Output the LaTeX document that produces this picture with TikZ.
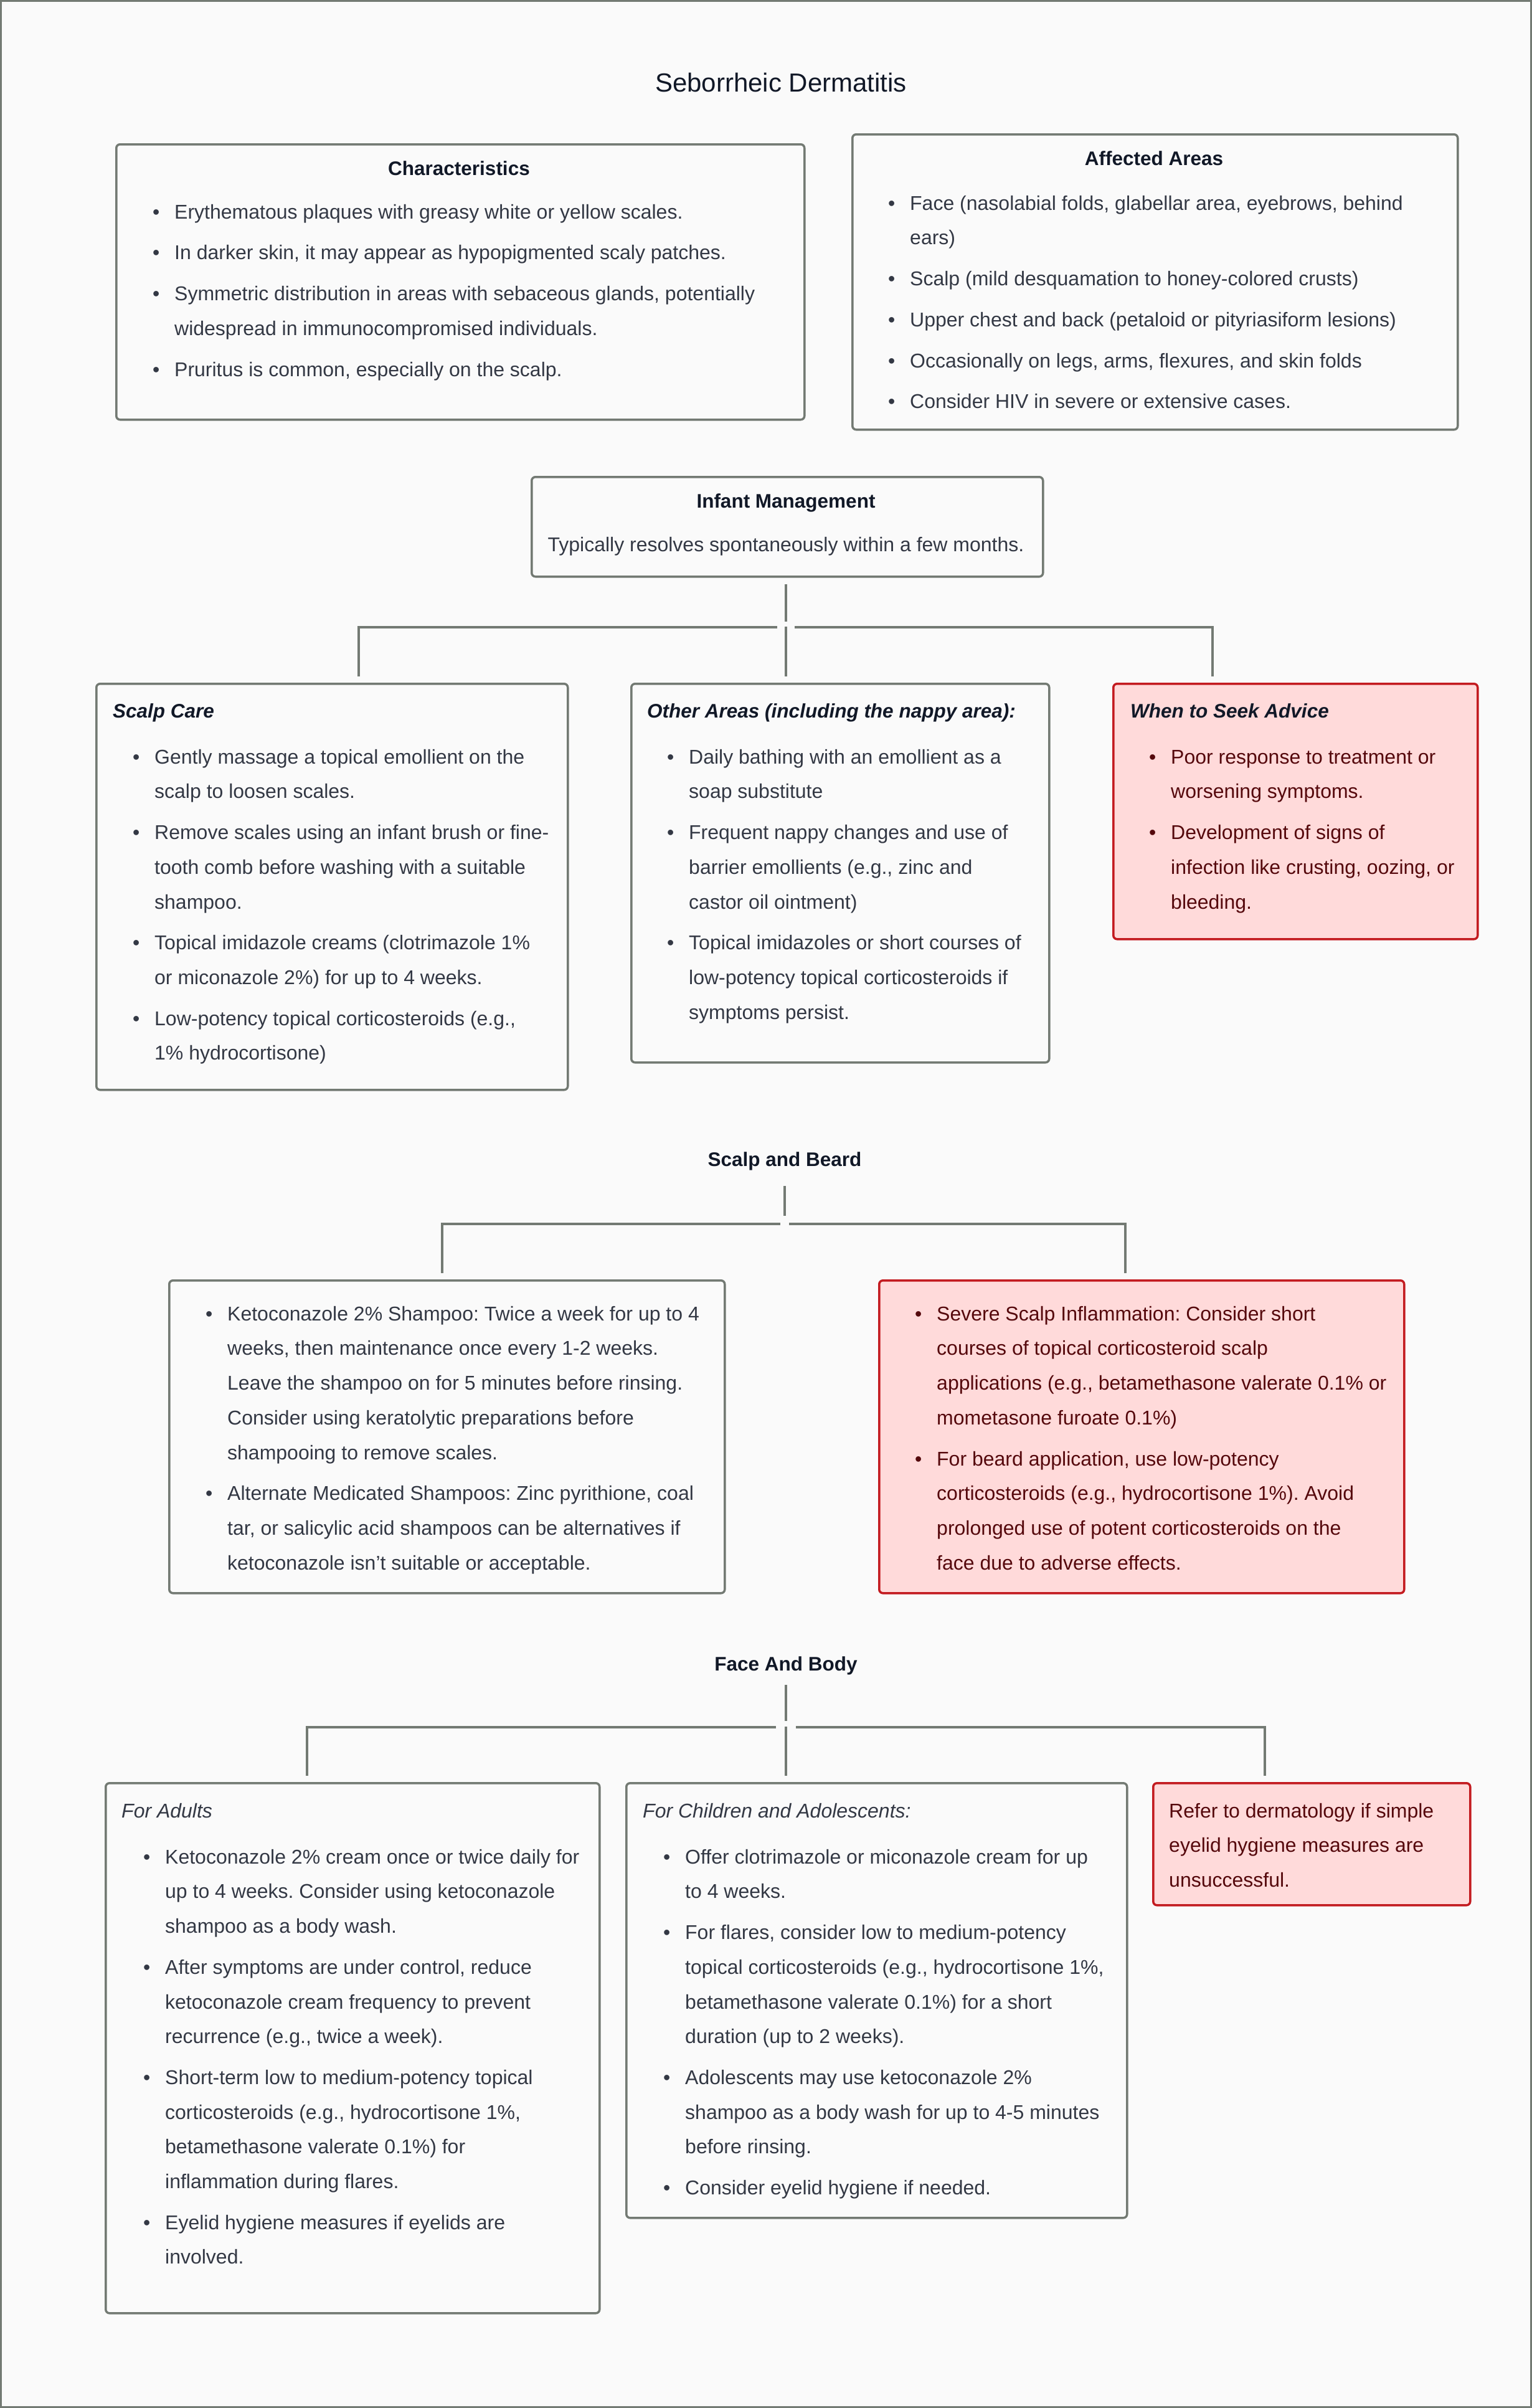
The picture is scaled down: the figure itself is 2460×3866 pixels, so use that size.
\documentclass[tikz,border=0pt]{standalone}
\usepackage{fontspec}
\setmainfont{Liberation Sans}
\usetikzlibrary{calc}

\definecolor{bgpage}{RGB}{250,250,250}
\definecolor{edgegray}{RGB}{115,122,115}
\definecolor{inkbody}{RGB}{51,56,68}
\definecolor{inkhead}{RGB}{17,24,39}
\definecolor{alertedge}{RGB}{195,27,32}
\definecolor{alertfill}{RGB}{255,218,218}
\definecolor{alertink}{RGB}{85,8,12}

\newcommand{\bul}{\makebox[35pt][l]{\textbullet}}
\newcommand{\ind}{\hspace*{35pt}}
\newcommand{\fst}{\rule{0pt}{25pt}}

\tikzset{
  card/.style={draw=edgegray, line width=3.5pt, rounded corners=6pt, fill=bgpage, anchor=north west, inner sep=0pt},
  alertcard/.style={card, draw=alertedge, fill=alertfill},
  body/.style={anchor=north west, inner sep=0pt, align=left, text=inkbody, font=\fontsize{32}{55.7}\selectfont\frenchspacing},
  alertbody/.style={body, text=alertink},
  head/.style={anchor=base, inner sep=0pt, text=inkhead, font=\fontsize{31.5}{36}\selectfont\bfseries},
  subhead/.style={head, anchor=base west, font=\fontsize{31.5}{36}\selectfont\bfseries\itshape},
  link/.style={draw=edgegray, line width=4pt},
}

\begin{document}
\begin{tikzpicture}[x=1pt,y=-1pt]

\useasboundingbox (0,0) rectangle (2460,3866);
\draw[fill=bgpage, draw=edgegray, line width=3pt] (1.5,1.5) rectangle (2458.5,3864.5);

\node[anchor=base, text=inkhead, font=\fontsize{42}{48}\selectfont] (lblTitle) at (1254,147) {Seborrheic Dermatitis};

% characteristics and affected areas
\node[card, minimum width=1105pt, minimum height=442pt] (charBox) at (185,230) {};
\node[head] (charHead) at (737,281) {Characteristics};
\node[body] (charList) at (245,326) {\fst\bul Erythematous plaques with greasy white or yellow scales.\\[10pt]
\bul In darker skin, it may appear as hypopigmented scaly patches.\\[10pt]
\bul Symmetric distribution in areas with sebaceous glands, potentially\\
\ind widespread in immunocompromised individuals.\\[10pt]
\bul Pruritus is common, especially on the scalp.};

\node[card, minimum width=972pt, minimum height=474pt] (areaBox) at (1367,214) {};
\node[head] (areaHead) at (1853,265) {Affected Areas};
\node[body] (areaList) at (1426,312) {\fst\bul Face (nasolabial folds, glabellar area, eyebrows, behind\\
\ind ears)\\[10pt]
\bul Scalp (mild desquamation to honey-colored crusts)\\[10pt]
\bul Upper chest and back (petaloid or pityriasiform lesions)\\[10pt]
\bul Occasionally on legs, arms, flexures, and skin folds\\[10pt]
\bul Consider HIV in severe or extensive cases.};

% infant management
\node[card, minimum width=821pt, minimum height=160pt] (infBox) at (852,764) {};
\node[head] (infHead) at (1262,815) {Infant Management};
\node[anchor=base, text=inkbody, font=\fontsize{32}{36}\selectfont] (infSub) at (1262,885) {Typically resolves spontaneously within a few months.};

\node[card, minimum width=757pt, minimum height=652pt] (scalpBox) at (153,1096) {};
\node[subhead] (scalpHead) at (181,1152) {Scalp Care};
\node[body] (scalpList) at (213,1201) {\fst\bul Gently massage a topical emollient on the\\
\ind scalp to loosen scales.\\[10pt]
\bul Remove scales using an infant brush or fine-\\
\ind tooth comb before washing with a suitable\\
\ind shampoo.\\[10pt]
\bul Topical imidazole creams (clotrimazole 1\%\\
\ind or miconazole 2\%) for up to 4 weeks.\\[10pt]
\bul Low-potency topical corticosteroids (e.g.,\\
\ind 1\% hydrocortisone)};

\node[card, minimum width=671pt, minimum height=608pt] (otherBox) at (1012,1096) {};
\node[subhead] (otherHead) at (1039,1152) {Other Areas (including the nappy area):};
\node[body] (otherList) at (1071,1201) {\fst\bul Daily bathing with an emollient as a\\
\ind soap substitute\\[10pt]
\bul Frequent nappy changes and use of\\
\ind barrier emollients (e.g., zinc and\\
\ind castor oil ointment)\\[10pt]
\bul Topical imidazoles or short courses of\\
\ind low-potency topical corticosteroids if\\
\ind symptoms persist.};

\node[alertcard, minimum width=585pt, minimum height=410pt] (seekBox) at (1786,1096) {};
\node[subhead] (seekHead) at (1815,1152) {When to Seek Advice};
\node[alertbody] (seekList) at (1845,1201) {\fst\bul Poor response to treatment or\\
\ind worsening symptoms.\\[10pt]
\bul Development of signs of\\
\ind infection like crusting, oozing, or\\
\ind bleeding.};

\coordinate (infBar) at (1262,1007);
\coordinate (infL) at (576,1007);
\coordinate (infR) at (1947,1007);
\draw[link] ($(infBar |- infBox.south)+(0,10)$) -- ([yshift=9pt]infBar);
\draw[link] ($(infL |- scalpBox.north)+(0,-10)$) -- (infL) -- ([xshift=-14pt]infBar);
\draw[link] ($(infR |- seekBox.north)+(0,-10)$) -- (infR) -- ([xshift=14pt]infBar);
\draw[link] ([yshift=1pt]infBar) -- ($(infBar |- otherBox.north)+(0,-10)$);

% scalp and beard
\node[head] (beardHead) at (1260,1872) {Scalp and Beard};

\node[card, minimum width=892pt, minimum height=502pt] (ketoBox) at (270,2054) {};
\node[body] (ketoList) at (330,2095) {\fst\bul Ketoconazole 2\% Shampoo: Twice a week for up to 4\\
\ind weeks, then maintenance once every 1-2 weeks.\\
\ind Leave the shampoo on for 5 minutes before rinsing.\\
\ind Consider using keratolytic preparations before\\
\ind shampooing to remove scales.\\[10pt]
\bul Alternate Medicated Shampoos: Zinc pyrithione, coal\\
\ind tar, or salicylic acid shampoos can be alternatives if\\
\ind ketoconazole isn't suitable or acceptable.};

\node[alertcard, minimum width=843pt, minimum height=502pt] (severeBox) at (1410,2054) {};
\node[alertbody] (severeList) at (1469,2095) {\fst\bul Severe Scalp Inflammation: Consider short\\
\ind courses of topical corticosteroid scalp\\
\ind applications (e.g., betamethasone valerate 0.1\% or\\
\ind mometasone furoate 0.1\%)\\[10pt]
\bul For beard application, use low-potency\\
\ind corticosteroids (e.g., hydrocortisone 1\%). Avoid\\
\ind prolonged use of potent corticosteroids on the\\
\ind face due to adverse effects.};

\coordinate (beardBar) at (1260,1965);
\coordinate (beardL) at (710,1965);
\coordinate (beardR) at (1807,1965);
\draw[link] ([yshift=-32pt]beardHead.base) -- ([yshift=13pt]beardBar);
\draw[link] ($(beardL |- ketoBox.north)+(0,-10)$) -- (beardL) -- ([xshift=-7pt]beardBar);
\draw[link] ($(beardR |- severeBox.north)+(0,-10)$) -- (beardR) -- ([xshift=7pt]beardBar);

% face and body
\node[head] (faceHead) at (1262,2682) {Face And Body};

\node[card, minimum width=793pt, minimum height=851pt] (adultBox) at (168,2861) {};
\node[anchor=base west, inner sep=0pt, text=inkbody, font=\fontsize{32}{36}\selectfont\itshape] (adultHead) at (195,2918) {For Adults};
\node[body] (adultList) at (230,2967) {\fst\bul Ketoconazole 2\% cream once or twice daily for\\
\ind up to 4 weeks. Consider using ketoconazole\\
\ind shampoo as a body wash.\\[10pt]
\bul After symptoms are under control, reduce\\
\ind ketoconazole cream frequency to prevent\\
\ind recurrence (e.g., twice a week).\\[10pt]
\bul Short-term low to medium-potency topical\\
\ind corticosteroids (e.g., hydrocortisone 1\%,\\
\ind betamethasone valerate 0.1\%) for\\
\ind inflammation during flares.\\[10pt]
\bul Eyelid hygiene measures if eyelids are\\
\ind involved.};

\node[card, minimum width=804pt, minimum height=698pt] (childBox) at (1004,2861) {};
\node[anchor=base west, inner sep=0pt, text=inkbody, font=\fontsize{32}{36}\selectfont\itshape] (childHead) at (1032,2918) {For Children and Adolescents:};
\node[body] (childList) at (1065,2967) {\fst\bul Offer clotrimazole or miconazole cream for up\\
\ind to 4 weeks.\\[10pt]
\bul For flares, consider low to medium-potency\\
\ind topical corticosteroids (e.g., hydrocortisone 1\%,\\
\ind betamethasone valerate 0.1\%) for a short\\
\ind duration (up to 2 weeks).\\[10pt]
\bul Adolescents may use ketoconazole 2\%\\
\ind shampoo as a body wash for up to 4-5 minutes\\
\ind before rinsing.\\[10pt]
\bul Consider eyelid hygiene if needed.};

\node[alertcard, minimum width=509pt, minimum height=196pt] (referBox) at (1850,2861) {};
\node[alertbody] (referText) at (1877,2893) {\fst Refer to dermatology if simple\\
eyelid hygiene measures are\\
unsuccessful.};

\coordinate (faceBar) at (1262,2773);
\coordinate (faceL) at (493,2773);
\coordinate (faceR) at (2031,2773);
\draw[link] ([yshift=-23pt]faceHead.base) -- ([yshift=10pt]faceBar);
\draw[link] ($(faceL |- adultBox.north)+(0,-10)$) -- (faceL) -- ([xshift=-16pt]faceBar);
\draw[link] ($(faceR |- referBox.north)+(0,-10)$) -- (faceR) -- ([xshift=16pt]faceBar);
\draw[link] ([yshift=1pt]faceBar) -- ($(faceBar |- childBox.north)+(0,-10)$);

\end{tikzpicture}
\end{document}
